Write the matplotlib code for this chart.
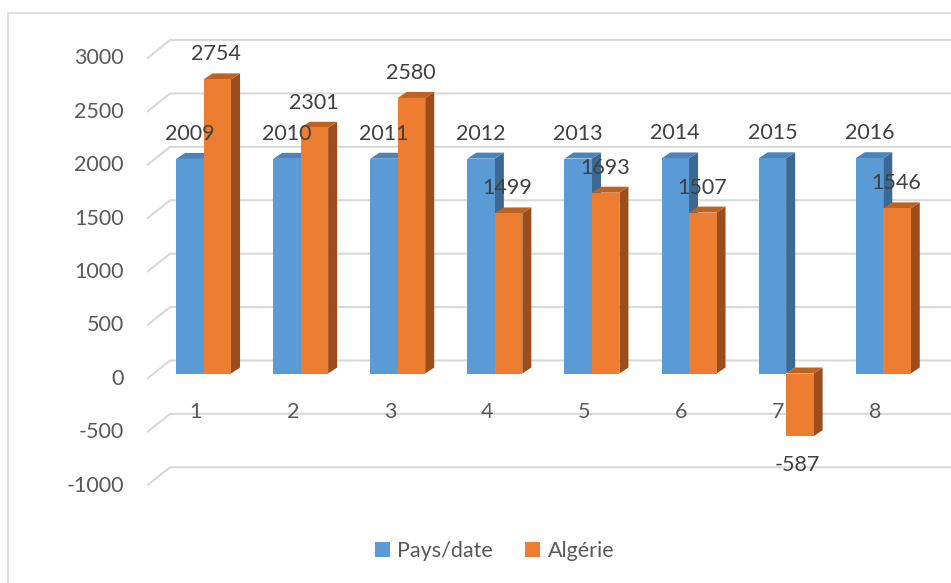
import matplotlib
matplotlib.use("Agg")
import matplotlib.pyplot as plt
from matplotlib.patches import Polygon, Rectangle

# data
categories = ["1", "2", "3", "4", "5", "6", "7", "8"]
pays_date = [2009, 2010, 2011, 2012, 2013, 2014, 2015, 2016]
algerie = [2754, 2301, 2580, 1499, 1693, 1507, -587, 1546]
y_ticks = [3000, 2500, 2000, 1500, 1000, 500, 0, -500, -1000]
series_names = ["Pays/date", "Algérie"]

plt.rcParams["font.family"] = ["Lato", "DejaVu Sans"]
FS = 15.5

# colours: front, side, top
BLUE = ("#5b9bd5", "#3c6991", "#4a84bb")
ORANGE = ("#ed7d31", "#9c4d1b", "#c0621f")
GRID = "#d9d9d9"
LABEL = "#404040"
TICK = "#595959"

fig = plt.figure(figsize=(9.51, 5.83), dpi=100)
ax = fig.add_axes([0, 0, 1, 1])
ax.set_xlim(-2.096, 7.698)
ax.set_ylim(-1961.6, 3497.2)
ax.axis("off")

# pseudo 3d depth (data units)
bar_w = 0.283
bar_dx, bar_dy = 0.093, 56
floor_x0, floor_x1 = -0.582, -0.345
floor_dy0, floor_dy1 = -50, 122

# gridlines: floor diagonal + back wall line
for v in y_ticks:
    ax.plot([floor_x0, floor_x1, 7.8], [v + floor_dy0, v + floor_dy1, v + floor_dy1],
            color=GRID, lw=1.5, zorder=1, solid_capstyle="butt")
    ax.text(-0.819, v + floor_dy0, str(v), ha="right", va="center",
            fontsize=FS, color=TICK)


def box(x0, lo, hi, cols):
    x1 = x0 + bar_w
    front, side, top = cols
    ax.add_patch(Polygon([(x1, lo), (x1 + bar_dx, lo + bar_dy),
                          (x1 + bar_dx, hi + bar_dy), (x1, hi)],
                         closed=True, fc=side, ec="none", zorder=3))
    ax.add_patch(Polygon([(x0, hi), (x1, hi), (x1 + bar_dx, hi + bar_dy),
                          (x0 + bar_dx, hi + bar_dy)],
                         closed=True, fc=top, ec="none", zorder=3))
    ax.add_patch(Rectangle((x0, lo), bar_w, hi - lo, fc=front, ec="none", zorder=3))


for i, (b, o) in enumerate(zip(pays_date, algerie)):
    xb = i - bar_w
    xo = i
    box(xb, 0, b, BLUE)
    box(xo, min(0, o), max(0, o), ORANGE)
    ax.annotate(str(b), (xb + bar_w / 2, b), xytext=(0, 18), textcoords="offset points",
                ha="center", va="center", fontsize=FS, color=LABEL, zorder=5)
    if o >= 0:
        ax.annotate(str(o), (xo + bar_w / 2 - 0.01, o), xytext=(0, 18),
                    textcoords="offset points",
                    ha="center", va="center", fontsize=FS, color=LABEL, zorder=5)
    else:
        ax.annotate(str(o), (xo + bar_w / 2 - 0.03, o), xytext=(0, -21),
                    textcoords="offset points",
                    ha="center", va="center", fontsize=FS, color=LABEL, zorder=5)
    ax.text(i - 0.08, -358, categories[i], ha="center", va="center",
            fontsize=FS, color=TICK, zorder=2)

# chart border
fig.patches.append(Rectangle((8 / 951, -0.1), 1.2, (583 - 13) / 583 + 0.1,
                             transform=fig.transFigure, fill=False,
                             ec=GRID, lw=1.2))

handles = [Rectangle((0, 0), 1, 1, fc=BLUE[0]), Rectangle((0, 0), 1, 1, fc=ORANGE[0])]
fig.legend(handles, series_names, loc="center", bbox_to_anchor=(0.52, 0.055),
           ncol=2, frameon=False, fontsize=FS, labelcolor=TICK,
           handlelength=0.7, handleheight=0.7, handletextpad=0.35,
           columnspacing=1.5)

fig.savefig("out.png", dpi=100)
